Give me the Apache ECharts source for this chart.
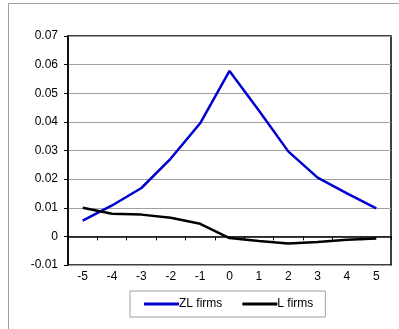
<!DOCTYPE html>
<html><head><meta charset="utf-8">
<script src="https://cdn.jsdelivr.net/npm/echarts@6/dist/echarts.min.js"></script>
<style>html,body{margin:0;padding:0;background:#fff}#c{width:399px;height:329px}</style>
</head><body><div id="c"></div>
<script>
const categories = ['-5','-4','-3','-2','-1','0','1','2','3','4','5'];
const zlFirms = [0.0055, 0.0108, 0.0169, 0.0272, 0.0395, 0.0578, 0.0440, 0.0297, 0.0205, 0.0150, 0.0098];
const lFirms = [0.0100, 0.0079, 0.0076, 0.0065, 0.0044, -0.0006, -0.0016, -0.0025, -0.0020, -0.0012, -0.0007];
const yTicks = [-0.01, 0, 0.01, 0.02, 0.03, 0.04, 0.05, 0.06, 0.07];
const seriesNames = ['ZL firms', 'L firms'];

const chart = echarts.init(document.getElementById('c'), null, {renderer:'canvas'});
const font = 'Liberation Sans, Arial, sans-serif';
chart.setOption({
  animation: false,
  graphic: [{
    type: 'rect', silent: true,
    shape: {x: 8.5, y: 3.5, width: 420, height: 420},
    style: {fill: 'none', stroke: '#a0a0a0', lineWidth: 1}
  }],
  grid: {left: 68, right: 8, top: 36, bottom: 64, show: true, borderColor: '#000', borderWidth: 1.5, backgroundColor: 'transparent'},
  xAxis: {
    type: 'category', data: categories, boundaryGap: true,
    axisLine: {onZero: true, lineStyle: {color: '#000', width: 1.5}},
    axisTick: {show: true, alignWithLabel: false, length: 4, lineStyle: {color: '#000'}},
    axisLabel: {color: '#000', fontFamily: font, fontSize: 12, margin: 6, interval: 0},
    splitLine: {show: false}
  },
  yAxis: {
    type: 'value', min: yTicks[0], max: yTicks[yTicks.length-1], interval: 0.01,
    axisLine: {show: true, lineStyle: {color: '#000', width: 1.5}},
    axisTick: {show: true, length: 4, lineStyle: {color: '#000'}},
    axisLabel: {color: '#000', fontFamily: font, fontSize: 12, margin: 10,
      formatter: v => { const r = Math.round(v*100)/100; return r === 0 ? '0' : String(r); }},
    splitLine: {show: true, lineStyle: {color: '#a0a0a0', width: 1}}
  },
  legend: {
    data: seriesNames, left: 130, top: 291, width: 193,
    orient: 'horizontal',
    borderColor: '#a0a0a0', borderWidth: 1, borderRadius: 0,
    padding: [7, 12, 7, 14], itemGap: 20, itemWidth: 35, itemHeight: 3,
    textStyle: {color: '#000', fontFamily: font, fontSize: 12, padding: [0,0,0,-5]},
    icon: 'rect'
  },
  series: [
    {name: seriesNames[0], type: 'line', data: zlFirms, symbol: 'none', lineStyle: {color: '#0000d0', width: 2.5}, itemStyle: {color: '#0000d0'}},
    {name: seriesNames[1], type: 'line', data: lFirms, symbol: 'none', lineStyle: {color: '#000', width: 2.5}, itemStyle: {color: '#000'}}
  ]
});
</script></body></html>
